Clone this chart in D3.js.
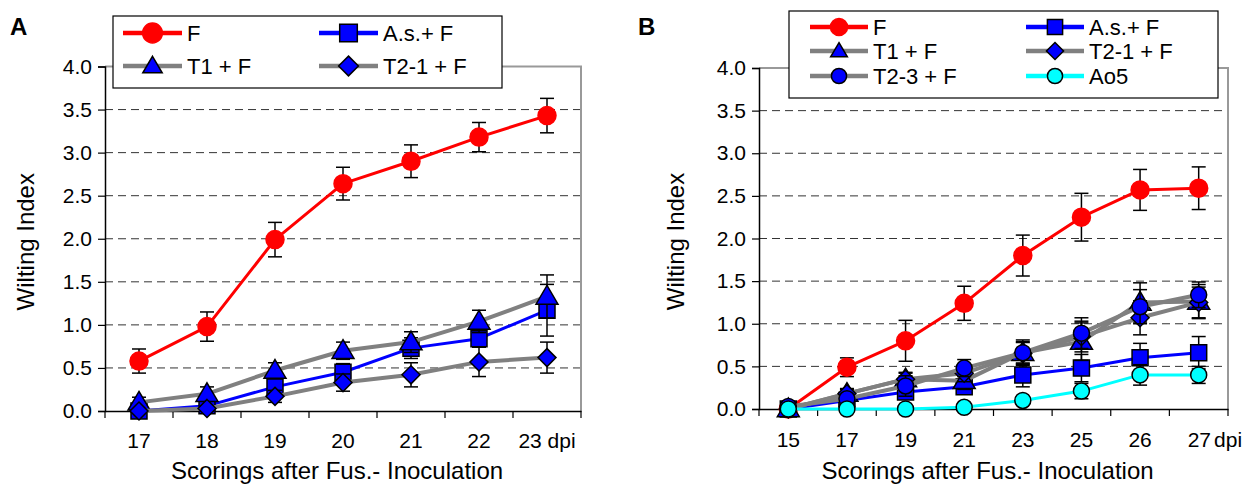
<!DOCTYPE html>
<html>
<head>
<meta charset="utf-8">
<script src="https://cdn.jsdelivr.net/npm/d3@7"></script>
<style>
  body { margin: 0; background: #fff; }
  svg text { font-family: Arial, "Liberation Sans", sans-serif; fill: #000; }
</style>
</head>
<body>
<svg id="chart" width="1249" height="484"></svg>
<script>
// ---- Data ----
const daysA = ["17", "18", "19", "20", "21", "22", "23"];
const fA      = [0.58, 0.98, 1.99, 2.64, 2.90, 3.18, 3.43];
const fAErr   = [0.14, 0.17, 0.20, 0.19, 0.19, 0.17, 0.20];
const asA     = [0.00, 0.06, 0.28, 0.45, 0.73, 0.84, 1.17];
const asAErr  = [0.00, 0.04, 0.08, 0.10, 0.12, 0.10, 0.30];
const t1A     = [0.10, 0.20, 0.47, 0.70, 0.80, 1.04, 1.33];
const t1AErr  = [0.06, 0.08, 0.09, 0.10, 0.12, 0.13, 0.25];
const t21A    = [0.00, 0.03, 0.17, 0.33, 0.42, 0.57, 0.62];
const t21AErr = [0.00, 0.03, 0.07, 0.10, 0.14, 0.17, 0.18];

const daysB = ["15", "17", "19", "21", "23", "25", "26", "27"];
const fB      = [0.00, 0.49, 0.80, 1.24, 1.80, 2.25, 2.57, 2.59];
const fBErr   = [0.00, 0.11, 0.24, 0.20, 0.24, 0.28, 0.24, 0.25];
const asB     = [0.00, 0.10, 0.20, 0.26, 0.40, 0.48, 0.60, 0.66];
const asBErr  = [0.00, 0.04, 0.06, 0.05, 0.14, 0.16, 0.17, 0.19];
const t1B     = [0.00, 0.18, 0.35, 0.33, 0.66, 0.79, 1.25, 1.26];
const t1BErr  = [0.00, 0.06, 0.08, 0.10, 0.15, 0.22, 0.23, 0.20];
const t21B    = [0.00, 0.18, 0.35, 0.42, 0.65, 0.85, 1.07, 1.25];
const t21BErr = [0.00, 0.05, 0.07, 0.10, 0.13, 0.18, 0.20, 0.18];
const t23B    = [0.03, 0.12, 0.27, 0.48, 0.66, 0.89, 1.20, 1.34];
const t23BErr = [0.00, 0.05, 0.12, 0.10, 0.13, 0.18, 0.20, 0.15];
const ao5B    = [0.00, 0.00, 0.00, 0.02, 0.10, 0.21, 0.40, 0.40];
const ao5BErr = [0.00, 0.00, 0.00, 0.00, 0.03, 0.09, 0.12, 0.10];

const yTicks = [0, 0.5, 1, 1.5, 2, 2.5, 3, 3.5, 4];

// ---- Styles ----
const RED = "#ff0000", BLUE = "#0000ff", GRAY = "#808080", CYAN = "#00ffff";

const styleF   = {color: RED,  width: 3, shape: "circle",   fill: RED,  stroke: RED,  size: 9};
const styleAs  = {color: BLUE, width: 3, shape: "square",   fill: BLUE, stroke: "#000", size: 8};
const styleT1  = {color: GRAY, width: 4, shape: "triangle", fill: BLUE, stroke: "#000", size: 11};
const styleT21 = {color: GRAY, width: 4, shape: "diamond",  fill: BLUE, stroke: "#000", size: 9};
const styleT23 = {color: GRAY, width: 4, shape: "circle",   fill: BLUE, stroke: "#000", size: 8};
const styleAo5 = {color: CYAN, width: 3, shape: "circle",   fill: CYAN, stroke: "#000", size: 8};

const panels = [
  {
    letter: "A", letterX: 10, letterY: 35,
    left: 105, right: 581, top: 66.5, bottom: 411,
    days: daysA, lastLabel: "dpiCentered", tickPad: 22,
    yTitleX: 34, xTitleY: 479,
    series: [
      {name: "F", values: fA, err: fAErr, style: styleF},
      {name: "A.s.+ F", values: asA, err: asAErr, style: styleAs},
      {name: "T1 + F", values: t1A, err: t1AErr, style: styleT1},
      {name: "T2-1 + F", values: t21A, err: t21AErr, style: styleT21}
    ],
    legend: {x: 113, y: 16, w: 389, h: 72, rows: [33, 66], cols: [123, 319], lineLen: 59, scale: 1.1}
  },
  {
    letter: "B", letterX: 638, letterY: 35,
    left: 759, right: 1228, top: 68, bottom: 409,
    days: daysB, lastLabel: "dpiAfter", tickPad: 23,
    yTitleX: 684, xTitleY: 479,
    series: [
      {name: "F", values: fB, err: fBErr, style: styleF},
      {name: "A.s.+ F", values: asB, err: asBErr, style: styleAs},
      {name: "T1 + F", values: t1B, err: t1BErr, style: styleT1},
      {name: "T2-1 + F", values: t21B, err: t21BErr, style: styleT21},
      {name: "T2-3 + F", values: t23B, err: t23BErr, style: styleT23},
      {name: "Ao5", values: ao5B, err: ao5BErr, style: styleAo5}
    ],
    legend: {x: 789, y: 11, w: 429, h: 87, rows: [27, 51, 76], cols: [810, 1026], lineLen: 58, scale: 0.95}
  }
];

const svg = d3.select("#chart");
svg.append("rect").attr("width", 1249).attr("height", 484).attr("fill", "#fff");

function markerPath(shape, s) {
  if (shape === "circle") return `M${-s},0A${s},${s} 0 1,0 ${s},0A${s},${s} 0 1,0 ${-s},0Z`;
  if (shape === "square") return `M${-s},${-s}H${s}V${s}H${-s}Z`;
  if (shape === "triangle") return `M0,${-s}L${s},${s * 0.7}H${-s}Z`;
  if (shape === "diamond") return `M0,${-s}L${s},0L0,${s}L${-s},0Z`;
}

function drawMarker(g, style, cx, cy, scale) {
  g.append("path")
    .attr("d", markerPath(style.shape, style.size * (scale || 1)))
    .attr("transform", `translate(${cx},${cy})`)
    .attr("fill", style.fill)
    .attr("stroke", style.stroke)
    .attr("stroke-width", 1.5);
}

panels.forEach(p => {
  const g = svg.append("g");

  const x = d3.scaleBand().domain(p.days).range([p.left, p.right]);
  const cx = d => x(d) + x.bandwidth() / 2;
  const y = d3.scaleLinear().domain([0, 4]).range([p.bottom, p.top]);

  // gridlines
  g.append("g").selectAll("line")
    .data(yTicks.filter(t => t > 0 && t < 4))
    .enter().append("line")
    .attr("x1", p.left).attr("x2", p.right)
    .attr("y1", d => y(d)).attr("y2", d => y(d))
    .attr("stroke", "#333").attr("stroke-width", 1)
    .attr("stroke-dasharray", "8,5");

  // frame (top + right)
  g.append("path")
    .attr("d", `M${p.left},${y(4)}H${p.right}V${y(0)}`)
    .attr("fill", "none").attr("stroke", "#999").attr("stroke-width", 2);

  // y axis
  const yAxis = g.append("g")
    .attr("transform", `translate(${p.left},0)`)
    .call(d3.axisLeft(y).tickValues(yTicks).tickSize(7).tickPadding(6).tickFormat(d3.format(".1f")));
  yAxis.select(".domain").attr("stroke", "#000").attr("stroke-width", 1.5);
  yAxis.selectAll(".tick line").attr("stroke", "#000").attr("stroke-width", 1.2);
  yAxis.selectAll("text").attr("font-size", 21).attr("font-family", null);

  // x axis: ticks between categories, labels at centres
  const xAxis = g.append("g")
    .attr("transform", `translate(0,${p.bottom})`)
    .call(d3.axisBottom(x).tickSize(0).tickPadding(p.tickPad));
  xAxis.select(".domain").attr("stroke", "#000").attr("stroke-width", 1.5);
  xAxis.selectAll("text").attr("font-size", 21).attr("font-family", null);
  const lastTick = xAxis.selectAll(".tick text").filter((d, i, n) => i === n.length - 1);
  if (p.lastLabel === "dpiCentered") {
    lastTick.text(d => d + " dpi");
  } else {
    lastTick.text(d => d).attr("text-anchor", "start").attr("x", -11)
      .append("tspan").attr("dx", 3).text("dpi");
  }
  g.append("g").selectAll("line")
    .data(p.days.map(d => x(d)).concat([p.right]))
    .enter().append("line")
    .attr("x1", d => d).attr("x2", d => d)
    .attr("y1", p.bottom).attr("y2", p.bottom + 7)
    .attr("stroke", "#000").attr("stroke-width", 1.2);

  // titles
  g.append("text")
    .attr("transform", `translate(${p.yTitleX},${(p.top + p.bottom) / 2 + 3}) rotate(-90)`)
    .attr("text-anchor", "middle").attr("font-size", 24)
    .text("Wilting Index");
  g.append("text")
    .attr("x", (p.left + p.right) / 2 - 6).attr("y", p.xTitleY)
    .attr("text-anchor", "middle").attr("font-size", 24)
    .text("Scorings after Fus.- Inoculation");
  g.append("text")
    .attr("x", p.letterX).attr("y", p.letterY)
    .attr("font-size", 24).attr("font-weight", "bold")
    .text(p.letter);

  // series
  const line = d3.line().x((d, i) => cx(p.days[i])).y(d => y(d));
  p.series.forEach(s => {
    const sg = g.append("g");
    sg.append("path")
      .datum(s.values)
      .attr("d", line)
      .attr("fill", "none")
      .attr("stroke", s.style.color)
      .attr("stroke-width", s.style.width)
      .attr("stroke-linejoin", "round");

    const eb = sg.append("g").attr("stroke", "#000").attr("stroke-width", 1.5);
    s.values.forEach((v, i) => {
      const e = s.err[i];
      if (!e) return;
      const px = cx(p.days[i]);
      eb.append("line").attr("x1", px).attr("x2", px).attr("y1", y(v + e)).attr("y2", y(v - e));
      eb.append("line").attr("x1", px - 7).attr("x2", px + 7).attr("y1", y(v + e)).attr("y2", y(v + e));
      eb.append("line").attr("x1", px - 7).attr("x2", px + 7).attr("y1", y(v - e)).attr("y2", y(v - e));
    });

    s.values.forEach((v, i) => drawMarker(sg, s.style, cx(p.days[i]), y(v)));
  });

  // legend
  const L = p.legend;
  const lg = g.append("g");
  lg.append("rect")
    .attr("x", L.x).attr("y", L.y).attr("width", L.w).attr("height", L.h)
    .attr("fill", "#fff").attr("stroke", "#000").attr("stroke-width", 1.2);
  p.series.forEach((s, i) => {
    const lx = L.cols[i % 2], ly = L.rows[Math.floor(i / 2)];
    lg.append("line")
      .attr("x1", lx).attr("x2", lx + L.lineLen)
      .attr("y1", ly).attr("y2", ly)
      .attr("stroke", s.style.color).attr("stroke-width", 4.5);
    drawMarker(lg, s.style, lx + L.lineLen / 2, ly, L.scale * (s.style.shape === "triangle" ? 0.8 : 1));
    lg.append("text")
      .attr("x", lx + L.lineLen + 5).attr("y", ly)
      .attr("dy", "0.36em").attr("font-size", 22)
      .text(s.name);
  });
});
</script>
</body>
</html>
